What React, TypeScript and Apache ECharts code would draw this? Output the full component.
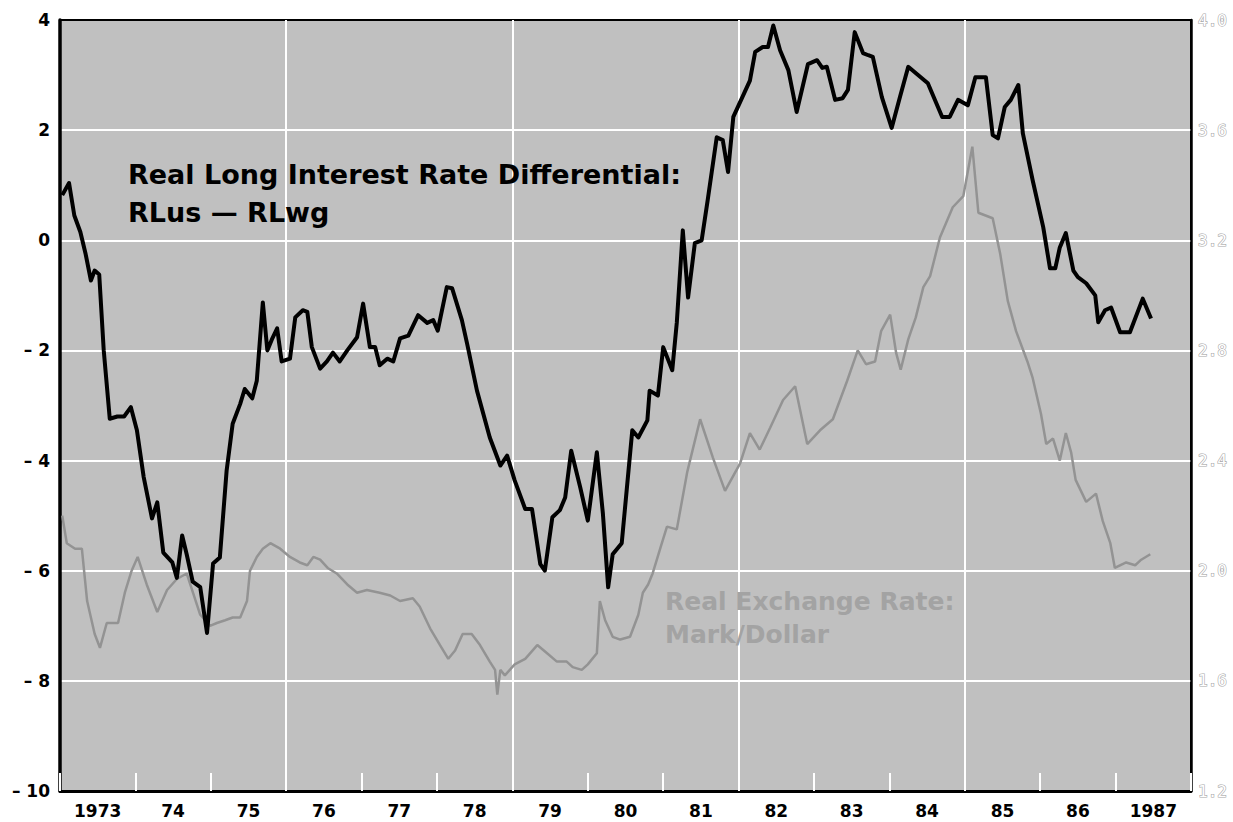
import React, { useEffect, useRef } from "react";
import * as echarts from "echarts";

const START_YEAR = 1973;
const yearLabels = ["1973", "74", "75", "76", "77", "78", "79", "80", "81", "82", "83", "84", "85", "86", "1987"];

// Real long interest rate differential (left axis), decimal years
const diffT = [
  1973.03, 1973.12, 1973.19, 1973.27, 1973.34, 1973.41, 1973.46, 1973.52, 1973.58, 1973.66,
  1973.76, 1973.85, 1973.94, 1974.02, 1974.11, 1974.22, 1974.29, 1974.37, 1974.49, 1974.55,
  1974.62, 1974.68, 1974.76, 1974.86, 1974.95, 1975.03, 1975.12, 1975.21, 1975.29, 1975.39,
  1975.45, 1975.55, 1975.61, 1975.69, 1975.75, 1975.81, 1975.88, 1975.94, 1976.05, 1976.12,
  1976.22, 1976.28, 1976.34, 1976.45, 1976.54, 1976.62, 1976.71, 1976.81, 1976.94, 1977.02,
  1977.11, 1977.18, 1977.24, 1977.34, 1977.42, 1977.51, 1977.62, 1977.75, 1977.87, 1977.95,
  1978.01, 1978.13, 1978.2, 1978.33, 1978.4, 1978.53, 1978.7, 1978.84, 1978.93, 1979.03,
  1979.17, 1979.26, 1979.37, 1979.43, 1979.53, 1979.63, 1979.7, 1979.78, 1979.9, 1980.0,
  1980.12, 1980.2, 1980.27, 1980.33, 1980.45, 1980.59, 1980.67, 1980.79, 1980.82, 1980.93,
  1981.0, 1981.12, 1981.18, 1981.26, 1981.33, 1981.42, 1981.51, 1981.59, 1981.71, 1981.79,
  1981.86, 1981.93, 1982.05, 1982.15, 1982.22, 1982.32, 1982.39, 1982.46, 1982.55, 1982.66,
  1982.77, 1982.92, 1983.04, 1983.11, 1983.17, 1983.28, 1983.38, 1983.45, 1983.54, 1983.65,
  1983.72, 1983.78, 1983.9, 1984.03, 1984.14, 1984.25, 1984.38, 1984.51, 1984.7, 1984.8,
  1984.91, 1985.04, 1985.14, 1985.28, 1985.37, 1985.44, 1985.53, 1985.61, 1985.71, 1985.77,
  1985.9, 1986.04, 1986.13, 1986.2, 1986.26, 1986.34, 1986.44, 1986.5, 1986.61, 1986.73,
  1986.77, 1986.86, 1986.94, 1987.06, 1987.19, 1987.36, 1987.47,
];
const diffV = [
  0.82, 1.04, 0.45, 0.15, -0.25, -0.73, -0.55, -0.62, -2.0, -3.24,
  -3.2, -3.2, -3.03, -3.45, -4.3, -5.05, -4.76, -5.67, -5.85, -6.13,
  -5.36, -5.7, -6.2, -6.3, -7.13, -5.87, -5.76, -4.18, -3.33, -2.97,
  -2.7, -2.87, -2.55, -1.13, -2.0, -1.8, -1.6, -2.2, -2.15, -1.4,
  -1.27, -1.3, -1.94, -2.33, -2.2, -2.04, -2.2, -2.0, -1.76, -1.15,
  -1.94, -1.94, -2.27, -2.15, -2.2, -1.78, -1.73, -1.36, -1.5, -1.45,
  -1.64, -0.85, -0.87, -1.45, -1.88, -2.73, -3.58, -4.09, -3.91, -4.36,
  -4.88, -4.88, -5.88, -6.0, -5.03, -4.9, -4.67, -3.82, -4.49, -5.09,
  -3.85, -4.96, -6.3, -5.7, -5.5, -3.45, -3.58, -3.27, -2.73, -2.82,
  -1.94, -2.36, -1.5, 0.18, -1.04, -0.05, 0.0, 0.73, 1.87, 1.82,
  1.24, 2.24, 2.6, 2.9, 3.42, 3.51, 3.51, 3.9, 3.45, 3.09,
  2.33, 3.2, 3.27, 3.13, 3.15, 2.55, 2.58, 2.73, 3.78, 3.4,
  3.36, 3.33, 2.6, 2.04, 2.6, 3.15, 3.0, 2.85, 2.24, 2.24,
  2.55, 2.45, 2.96, 2.96, 1.91, 1.85, 2.42, 2.55, 2.82, 1.94,
  1.09, 0.24, -0.51, -0.51, -0.13, 0.13, -0.55, -0.67, -0.78, -1.0,
  -1.49, -1.27, -1.22, -1.67, -1.67, -1.06, -1.42,
];

// Real exchange rate, mark/dollar (right axis), decimal years
const fxT = [
  1973.03, 1973.09, 1973.2, 1973.29, 1973.36, 1973.46, 1973.53, 1973.62, 1973.7, 1973.77,
  1973.86, 1973.95, 1974.03, 1974.15, 1974.29, 1974.42, 1974.55, 1974.68, 1974.86, 1974.99,
  1975.08, 1975.19, 1975.29, 1975.39, 1975.48, 1975.52, 1975.61, 1975.69, 1975.79, 1975.92,
  1976.05, 1976.18, 1976.28, 1976.36, 1976.45, 1976.55, 1976.67, 1976.81, 1976.94, 1977.07,
  1977.24, 1977.38, 1977.51, 1977.68, 1977.77, 1977.91, 1978.04, 1978.15, 1978.24, 1978.34,
  1978.46, 1978.57, 1978.7, 1978.77, 1978.8, 1978.84, 1978.9, 1979.03, 1979.17, 1979.33,
  1979.46, 1979.59, 1979.72, 1979.8, 1979.92, 1980.0, 1980.12, 1980.16, 1980.23, 1980.33,
  1980.43, 1980.56, 1980.67, 1980.73, 1980.8, 1980.86, 1980.96, 1981.05, 1981.18, 1981.32,
  1981.49, 1981.66, 1981.82, 1982.02, 1982.15, 1982.28, 1982.42, 1982.59, 1982.75, 1982.91,
  1983.08, 1983.25, 1983.44, 1983.58, 1983.69, 1983.81, 1983.89, 1984.01, 1984.09, 1984.15,
  1984.25, 1984.35, 1984.45, 1984.54, 1984.67, 1984.84, 1984.98, 1985.1, 1985.18, 1985.37,
  1985.47, 1985.57, 1985.68, 1985.83, 1985.9, 1986.01, 1986.08, 1986.17, 1986.26, 1986.34,
  1986.41, 1986.47, 1986.61, 1986.74, 1986.83, 1986.93, 1986.99, 1987.14, 1987.26, 1987.34,
  1987.46,
];
const fxV = [
  2.2, 2.1, 2.08, 2.08, 1.89, 1.77, 1.72, 1.81, 1.81, 1.81,
  1.92, 2.0, 2.05, 1.95, 1.85, 1.93, 1.97, 1.99, 1.84, 1.8,
  1.81, 1.82, 1.83, 1.83, 1.89, 2.0, 2.05, 2.08, 2.1, 2.08,
  2.05, 2.03, 2.02, 2.05, 2.04, 2.01, 1.99, 1.95, 1.92, 1.93,
  1.92, 1.91, 1.89, 1.9, 1.87, 1.79, 1.73, 1.68, 1.71, 1.77,
  1.77, 1.73, 1.67, 1.64, 1.55, 1.64, 1.62, 1.66, 1.68, 1.73,
  1.7, 1.67, 1.67, 1.65, 1.64, 1.66, 1.7, 1.89, 1.82, 1.76,
  1.75, 1.76, 1.84, 1.92, 1.95, 1.99, 2.08, 2.16, 2.15, 2.36,
  2.55, 2.41, 2.29, 2.39, 2.5, 2.44, 2.52, 2.62, 2.67, 2.46,
  2.51, 2.55, 2.69, 2.8, 2.75, 2.76, 2.87, 2.93, 2.79, 2.73,
  2.84, 2.92, 3.03, 3.07, 3.21, 3.32, 3.36, 3.54, 3.3, 3.28,
  3.15, 2.98, 2.87, 2.76, 2.7, 2.57, 2.46, 2.48, 2.4, 2.5,
  2.43, 2.33, 2.25, 2.28, 2.18, 2.1, 2.01, 2.03, 2.02, 2.04,
  2.06,
];

const leftTitle = ["Real Long Interest Rate Differential:", "RLus \u2014 RLwg"];
const rightTitle = ["Real Exchange Rate:", "Mark/Dollar"];

export default function App() {
  const ref = useRef<HTMLDivElement>(null);

  useEffect(() => {
    document.body.style.margin = "0";
    if (!ref.current) return;
    const chart = echarts.init(ref.current, undefined, { renderer: "svg" });
    const boldFont = "DejaVu Sans";

    const option: any = {
      animation: false,
      backgroundColor: "#ffffff",
      grid: {
        left: 60,
        right: 42,
        top: 20,
        bottom: 31,
        show: true,
        backgroundColor: "#c0c0c0",
        borderColor: "#000",
        borderWidth: 2,
      },
      xAxis: [
        {
          type: "value",
          min: 0,
          max: 15,
          interval: 3,
          position: "bottom",
          axisLine: { show: true, onZero: false, lineStyle: { color: "#000", width: 3 } },
          axisTick: {
            show: true,
            inside: true,
            length: 18,
            lineStyle: { color: "#ffffff", width: 2 },
          },
          minorTick: {
            show: true,
            splitNumber: 3,
            length: 18,
            lineStyle: { color: "#ffffff", width: 2 },
          },
          axisLabel: { show: false },
          splitLine: {
            show: true,
            showMinLine: false,
            showMaxLine: false,
            lineStyle: { color: "#ffffff", width: 2 },
          },
        },
        {
          type: "category",
          data: yearLabels,
          position: "bottom",
          boundaryGap: true,
          axisLine: { show: false, onZero: false },
          axisTick: { show: false },
          axisLabel: {
            color: "#000",
            fontFamily: boldFont,
            fontWeight: "bold",
            fontSize: 17,
            margin: 11,
          },
          splitLine: { show: false },
        },
      ],
      yAxis: [
        {
          type: "value",
          min: -10,
          max: 4,
          interval: 2,
          position: "left",
          axisLine: { show: true, onZero: false, lineStyle: { color: "#000", width: 3.5 } },
          axisTick: { show: false },
          axisLabel: {
            color: "#000",
            fontFamily: boldFont,
            fontWeight: "bold",
            fontSize: 17,
            margin: 10,
            formatter: (v: number) => (v < 0 ? "\u2013 " + Math.abs(v) : String(v)),
          },
          splitLine: {
            show: true,
            showMinLine: false,
            showMaxLine: false,
            lineStyle: { color: "#ffffff", width: 2 },
          },
        },
        {
          type: "value",
          min: 1.2,
          max: 4.0,
          interval: 0.4,
          position: "right",
          axisLine: { show: true, onZero: false, lineStyle: { color: "#000", width: 2.5 } },
          axisTick: { show: false },
          axisLabel: {
            color: "#ffffff",
            textBorderColor: "#a8a8a8",
            textBorderWidth: 1.2,
            fontFamily: "DejaVu Sans Mono",
            fontSize: 16,
            margin: 7,
            formatter: (v: number) => v.toFixed(1),
          },
          splitLine: { show: false },
        },
      ],
      series: [
        {
          name: "Real Exchange Rate: Mark/Dollar",
          type: "line",
          xAxisIndex: 0,
          yAxisIndex: 1,
          showSymbol: false,
          data: fxT.map((t, i) => [t - START_YEAR, fxV[i]]),
          lineStyle: { color: "#939393", width: 2.5 },
          z: 3,
        },
        {
          name: "Real Long Interest Rate Differential",
          type: "line",
          xAxisIndex: 0,
          yAxisIndex: 0,
          showSymbol: false,
          data: diffT.map((t, i) => [t - START_YEAR, diffV[i]]),
          lineStyle: { color: "#000000", width: 4, join: "round" },
          z: 4,
        },
      ],
      graphic: [
        {
          type: "text",
          left: 128,
          top: 155,
          z: 10,
          style: {
            text: leftTitle.join("\n"),
            fontFamily: boldFont,
            fontWeight: "bold",
            fontSize: 27,
            lineHeight: 38,
            fill: "#000",
          },
        },
        {
          type: "text",
          left: 665,
          top: 585,
          z: 10,
          style: {
            text: rightTitle.join("\n"),
            fontFamily: boldFont,
            fontWeight: "bold",
            fontSize: 25,
            lineHeight: 33,
            fill: "#a3a3a3",
          },
        },
      ],
    };

    chart.setOption(option);
    return () => chart.dispose();
  }, []);

  return <div ref={ref} style={{ width: 1233, height: 822 }} />;
}
